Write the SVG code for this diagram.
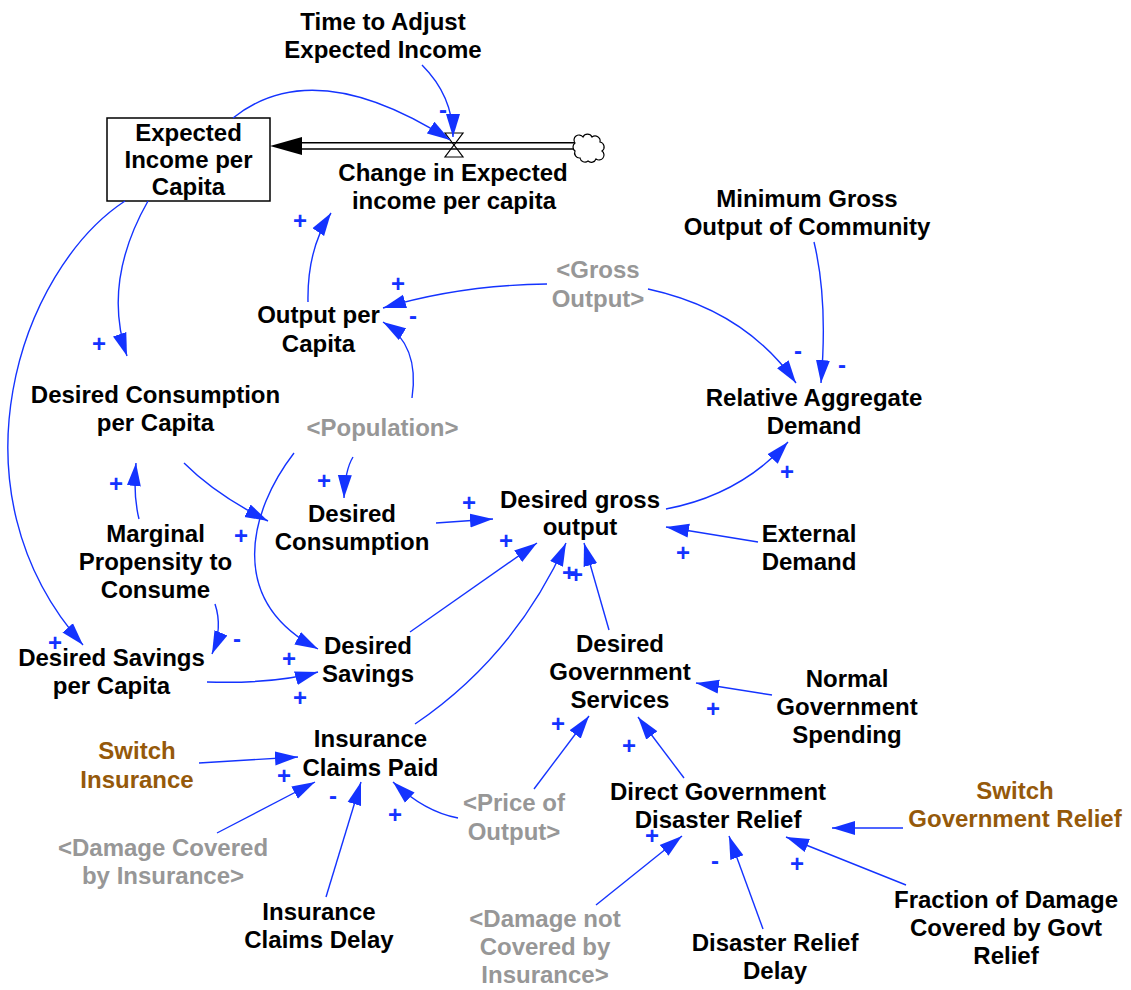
<svg xmlns="http://www.w3.org/2000/svg" width="1131" height="990" viewBox="0 0 1131 990">
<style>
text{font-family:"Liberation Sans",Arial,Helvetica,sans-serif;font-weight:bold;font-size:24px;text-anchor:middle}
.k{fill:#000}
.g{fill:#979797}
.b{fill:#95590a}
.s{fill:#1433ff;font-size:24px}
.c path{fill:none;stroke:#1433ff;stroke-width:1.4;marker-end:url(#ah)}
</style>
<defs>
<marker id="ah" markerWidth="23" markerHeight="15" refX="23" refY="7.5" orient="auto" markerUnits="userSpaceOnUse">
<path d="M0,0.5 L23,7.5 L0,14.5 z" fill="#1433ff"/>
</marker>
</defs>
<rect width="1131" height="990" fill="#fff"/>

<g id="flow">
<polygon points="445,133 463,133 454,145" fill="#fff" stroke="#000" stroke-width="1.2"/>
<polygon points="445,157 463,157 454,145" fill="#fff" stroke="#000" stroke-width="1.2"/>
<line x1="300" y1="142.7" x2="575" y2="142.7" stroke="#000" stroke-width="1.4"/>
<line x1="300" y1="149" x2="575" y2="149" stroke="#000" stroke-width="1.4"/>
<polygon points="270,146 302,137 302,155" fill="#000"/>
<path d="M575,143 a5,5 0 0 1 8,-6 a5,5 0 0 1 9,0 a5,5 0 0 1 8,5 a5,5 0 0 1 2,9 a5,5 0 0 1 -6,8 a5,5 0 0 1 -8,2 a5,5 0 0 1 -8,-3 a5,5 0 0 1 -5,-7 a5,5 0 0 1 0,-8 z" fill="#fff" stroke="#000" stroke-width="1.2"/>
<text class="k" x="453" y="181">Change in Expected</text>
<text class="k" x="454" y="209">income per capita</text>
</g>

<g id="stock">
<rect x="107" y="118" width="163" height="83" fill="#fff" stroke="#000" stroke-width="1.5"/>
<text class="k" x="188.5" y="141">Expected</text>
<text class="k" x="188.5" y="168">Income per</text>
<text class="k" x="188.5" y="195">Capita</text>
</g>

<g id="n-time"><text class="k" x="383" y="30">Time to Adjust</text><text class="k" x="383" y="58">Expected Income</text></g>
<g id="n-min"><text class="k" x="807" y="207">Minimum Gross</text><text class="k" x="807" y="235">Output of Community</text></g>
<g id="n-gross"><text class="g" x="598" y="278">&lt;Gross</text><text class="g" x="598" y="307">Output&gt;</text></g>
<g id="n-opc"><text class="k" x="318.5" y="323">Output per</text><text class="k" x="318.5" y="352">Capita</text></g>
<g id="n-rad"><text class="k" x="814" y="406">Relative Aggregate</text><text class="k" x="814" y="434">Demand</text></g>
<g id="n-dcpc"><text class="k" x="155.5" y="403">Desired Consumption</text><text class="k" x="155.5" y="431">per Capita</text></g>
<g id="n-pop"><text class="g" x="382.5" y="436">&lt;Population&gt;</text></g>
<g id="n-dc"><text class="k" x="352" y="522">Desired</text><text class="k" x="352" y="550">Consumption</text></g>
<g id="n-dgo"><text class="k" x="580" y="508">Desired gross</text><text class="k" x="580" y="535">output</text></g>
<g id="n-ext"><text class="k" x="809" y="542">External</text><text class="k" x="809" y="570">Demand</text></g>
<g id="n-mpc"><text class="k" x="155.5" y="542">Marginal</text><text class="k" x="155.5" y="570">Propensity to</text><text class="k" x="155.5" y="598">Consume</text></g>
<g id="n-dspc"><text class="k" x="111.5" y="666">Desired Savings</text><text class="k" x="111.5" y="694">per Capita</text></g>
<g id="n-ds"><text class="k" x="368" y="654">Desired</text><text class="k" x="368" y="682">Savings</text></g>
<g id="n-dgs"><text class="k" x="620" y="652">Desired</text><text class="k" x="620" y="680">Government</text><text class="k" x="620" y="708">Services</text></g>
<g id="n-ngs"><text class="k" x="847" y="687">Normal</text><text class="k" x="847" y="715">Government</text><text class="k" x="847" y="743">Spending</text></g>
<g id="n-si"><text class="b" x="137" y="759">Switch</text><text class="b" x="137" y="788">Insurance</text></g>
<g id="n-icp"><text class="k" x="370.5" y="747">Insurance</text><text class="k" x="370.5" y="776">Claims Paid</text></g>
<g id="n-price"><text class="g" x="514" y="811">&lt;Price of</text><text class="g" x="514" y="840">Output&gt;</text></g>
<g id="n-dgdr"><text class="k" x="718" y="800">Direct Government</text><text class="k" x="718" y="828">Disaster Relief</text></g>
<g id="n-sgr"><text class="b" x="1015" y="799">Switch</text><text class="b" x="1015" y="827">Government Relief</text></g>
<g id="n-dci"><text class="g" x="163" y="856">&lt;Damage Covered</text><text class="g" x="163" y="884">by Insurance&gt;</text></g>
<g id="n-icd"><text class="k" x="319" y="920">Insurance</text><text class="k" x="319" y="948">Claims Delay</text></g>
<g id="n-dnci"><text class="g" x="545" y="927">&lt;Damage not</text><text class="g" x="545" y="955">Covered by</text><text class="g" x="545" y="983">Insurance&gt;</text></g>
<g id="n-drd"><text class="k" x="775" y="951">Disaster Relief</text><text class="k" x="775" y="979">Delay</text></g>
<g id="n-frac"><text class="k" x="1006" y="908">Fraction of Damage</text><text class="k" x="1006" y="936">Covered by Govt</text><text class="k" x="1006" y="964">Relief</text></g>

<g id="connectors" class="c">
<path d="M233,118 Q314,53 450,140"/>
<path d="M422,65 Q453,96 453,137"/>
<path d="M308,302 Q307,249 331,213"/>
<path d="M547,284 Q460,285 383,308"/>
<path d="M412,398 Q420,345 383,322"/>
<path d="M648,289 Q745,310 796,383"/>
<path d="M814,242 Q828,300 821,383"/>
<path d="M148,201 Q102,282 127,356"/>
<path d="M125,201 C20,270 -55,490 83,645"/>
<path d="M139,519 Q133,495 136,463"/>
<path d="M184,463 Q216,495 268,521"/>
<path d="M294,453 C250,510 225,600 318,649"/>
<path d="M353,457 Q345,470 344,498"/>
<path d="M436,523 L493,519"/>
<path d="M410,632 L537,543"/>
<path d="M415,724 Q515,656 566,543"/>
<path d="M609,630 L584,543"/>
<path d="M758,542 L666,527"/>
<path d="M666,509 Q740,495 788,442"/>
<path d="M215,604 Q223,628 212,654"/>
<path d="M207,682 Q275,684 318,672"/>
<path d="M772,695 L696,683"/>
<path d="M684,778 L638,717"/>
<path d="M534,789 L589,716"/>
<path d="M458,818 Q425,812 393,782"/>
<path d="M199,763 L298,757"/>
<path d="M217,833 L315,782"/>
<path d="M326,897 L361,782"/>
<path d="M903,828 L832,828"/>
<path d="M906,885 L786,837"/>
<path d="M763,929 L729,836"/>
<path d="M596,905 L682,836"/>
</g>

<g id="polarity">
<text class="s" x="443" y="118">-</text>
<text class="s" x="300" y="229">+</text>
<text class="s" x="398" y="292">+</text>
<text class="s" x="413" y="324">-</text>
<text class="s" x="798" y="359">-</text>
<text class="s" x="842" y="373">-</text>
<text class="s" x="99" y="352">+</text>
<text class="s" x="55" y="651">+</text>
<text class="s" x="116" y="492">+</text>
<text class="s" x="241" y="544">+</text>
<text class="s" x="324" y="489">+</text>
<text class="s" x="469" y="511">+</text>
<text class="s" x="506" y="549">+</text>
<text class="s" x="569" y="581">+</text>
<text class="s" x="576" y="583">+</text>
<text class="s" x="683" y="561">+</text>
<text class="s" x="787" y="480">+</text>
<text class="s" x="237" y="647">-</text>
<text class="s" x="289" y="667">+</text>
<text class="s" x="300" y="706">+</text>
<text class="s" x="713" y="717">+</text>
<text class="s" x="629" y="754">+</text>
<text class="s" x="558" y="732">+</text>
<text class="s" x="395" y="823">+</text>
<text class="s" x="284" y="784">+</text>
<text class="s" x="333" y="804">-</text>
<text class="s" x="797" y="872">+</text>
<text class="s" x="715" y="869">-</text>
<text class="s" x="652" y="844">+</text>
</g>
</svg>
